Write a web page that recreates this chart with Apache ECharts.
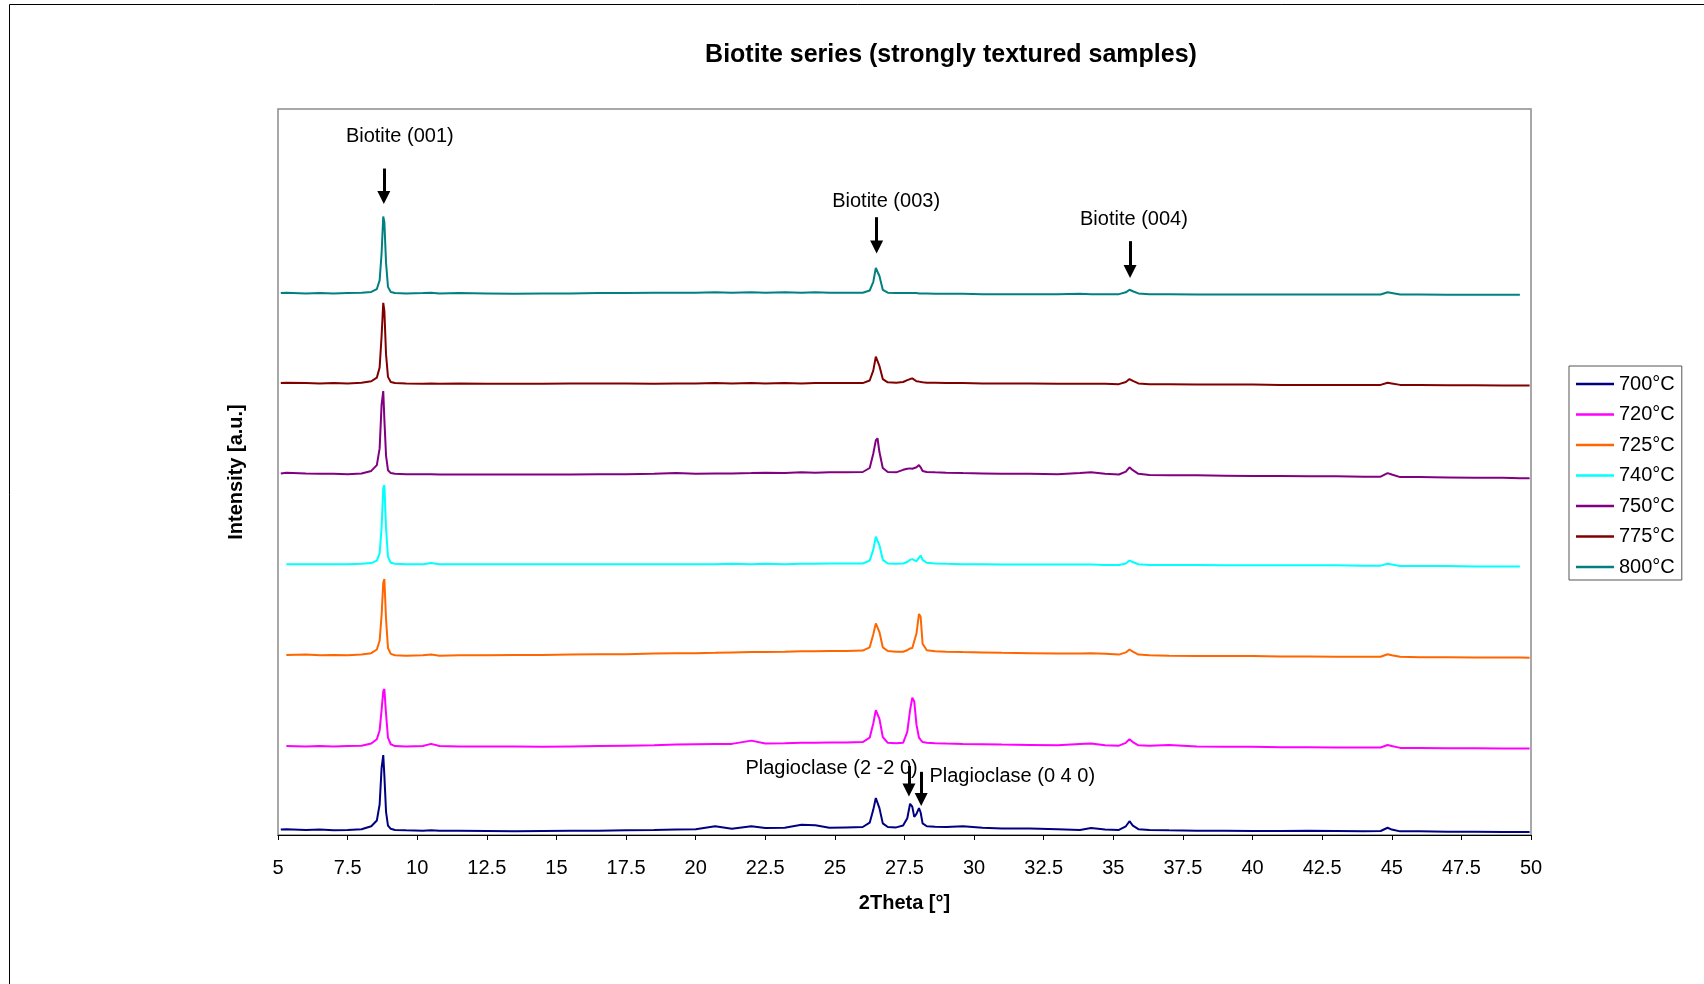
<!DOCTYPE html>
<html>
<head>
<meta charset="utf-8">
<script src="https://cdn.jsdelivr.net/npm/echarts@6/dist/echarts.min.js"></script>
<style>
html,body{margin:0;padding:0;background:#fff;}
#chart{width:1704px;height:984px;}
</style>
</head>
<body>
<div id="chart"></div>
<script>
// ---- Data ----
var seriesNames = ['700°C', '720°C', '725°C', '740°C', '750°C', '775°C', '800°C'];
var verticalOffsets = [0.7, 12.2, 24.75, 37.3, 49.75, 62.2, 74.6];
var xTicks = [5, 7.5, 10, 12.5, 15, 17.5, 20, 22.5, 25, 27.5, 30, 32.5, 35, 37.5, 40, 42.5, 45, 47.5, 50];

var twoTheta = [5.1, 5.3, 6.0, 6.5, 7.0, 7.5, 8.0, 8.35, 8.55, 8.65,
  8.72, 8.78, 8.82, 8.88, 8.95, 9.05, 9.2, 9.6, 10.2, 10.5,
  10.8, 11.5, 12.5, 13.5, 14.5, 15.5, 16.5, 17.5, 18.5, 19.3,
  20.0, 20.7, 21.3, 22.0, 22.5, 23.2, 23.8, 24.3, 24.8, 25.4,
  26.0, 26.25, 26.38, 26.47, 26.53, 26.6, 26.72, 26.9, 27.2, 27.45,
  27.6, 27.7, 27.78, 27.85, 27.93, 28.02, 28.08, 28.15, 28.3, 28.6,
  29.0, 29.6, 30.3, 31.0, 32.0, 33.0, 33.8, 34.2, 34.7, 35.2,
  35.45, 35.58, 35.7, 35.9, 36.3, 37.0, 38.0, 39.0, 40.0, 41.0,
  42.0, 43.0, 44.0, 44.6, 44.85, 45.0, 45.3, 46.0, 47.0, 48.0,
  49.0, 49.6, 49.95];

var int700 = [0.05, 0.1, 0.0, 0.05, -0.05, 0.0, 0.1, 0.5, 1.3, 3.5,
  8.5, 10.3, 7.5, 2.5, 0.6, 0.15, 0.0, -0.05, -0.1, -0.05,
  -0.1, -0.1, -0.15, -0.2, -0.15, -0.1, -0.1, -0.05, 0.0, 0.05,
  0.1, 0.5, 0.15, 0.5, 0.25, 0.3, 0.7, 0.65, 0.3, 0.35,
  0.4, 1.0, 2.8, 4.4, 4.6, 3.0, 0.9, 0.4, 0.35, 0.6,
  1.6, 3.6, 3.2, 1.8, 2.2, 3.0, 2.4, 0.9, 0.5, 0.45,
  0.4, 0.5, 0.3, 0.2, 0.2, 0.1, 0.0, 0.25, 0.05, 0.0,
  0.5, 1.2, 0.6, 0.1, 0.0, -0.05, -0.1, -0.1, -0.15, -0.15,
  -0.1, -0.15, -0.2, -0.15, 0.3, 0.05, -0.2, -0.2, -0.25, -0.25,
  -0.3, -0.3, -0.3];

var int720 = [null, 0.05, 0.0, 0.05, 0.0, 0.05, 0.1, 0.4, 1.0, 2.2,
  5.0, 7.6, 7.9, 4.5, 1.2, 0.3, 0.05, 0.0, 0.05, 0.35,
  0.05, 0.0, 0.0, 0.0, -0.05, 0.0, 0.05, 0.1, 0.15, 0.25,
  0.3, 0.35, 0.35, 0.8, 0.4, 0.45, 0.5, 0.5, 0.55, 0.55,
  0.6, 1.2, 3.2, 5.0, 5.2, 3.8, 1.3, 0.5, 0.45, 0.5,
  2.0, 5.0, 6.7, 6.2, 3.0, 1.2, 0.9, 0.6, 0.5, 0.45,
  0.4, 0.35, 0.3, 0.25, 0.2, 0.15, 0.35, 0.4, 0.15, 0.1,
  0.5, 1.0, 0.6, 0.15, 0.1, 0.2, 0.0, -0.05, -0.05, -0.1,
  -0.1, -0.15, -0.15, -0.15, 0.2, 0.05, -0.2, -0.2, -0.25, -0.25,
  -0.3, -0.3, -0.3];

var int725 = [null, 0.05, 0.1, 0.0, 0.05, 0.0, 0.1, 0.3, 0.8, 2.0,
  5.5, 10.0, 10.5, 5.0, 1.0, 0.2, 0.0, -0.05, 0.0, 0.1,
  -0.05, 0.0, 0.0, 0.05, 0.05, 0.1, 0.15, 0.15, 0.25, 0.3,
  0.3, 0.35, 0.4, 0.45, 0.45, 0.5, 0.55, 0.55, 0.6, 0.6,
  0.65, 1.1, 2.9, 4.4, 4.6, 3.2, 1.1, 0.6, 0.5, 0.5,
  0.7, 0.95, 1.0, 0.9, 3.0, 5.7, 5.3, 1.6, 0.7, 0.55,
  0.5, 0.45, 0.4, 0.35, 0.3, 0.25, 0.25, 0.3, 0.2, 0.1,
  0.4, 0.8, 0.5, 0.1, 0.0, -0.05, -0.1, -0.1, -0.1, -0.15,
  -0.15, -0.2, -0.2, -0.2, 0.15, 0.0, -0.2, -0.25, -0.25, -0.3,
  -0.3, -0.3, -0.35];

var int740 = [null, 0.0, 0.0, 0.0, 0.0, 0.0, 0.05, 0.15, 0.5, 1.5,
  5.0, 10.5, 10.9, 5.0, 1.0, 0.2, 0.05, 0.0, 0.0, 0.15,
  0.0, 0.0, 0.0, 0.0, 0.0, 0.0, 0.0, 0.0, 0.0, 0.0,
  0.0, 0.0, 0.05, 0.0, 0.05, 0.0, 0.05, 0.05, 0.1, 0.1,
  0.1, 0.5, 2.0, 3.8, 4.0, 2.6, 0.6, 0.1, 0.05, 0.1,
  0.3, 0.6, 0.7, 0.45, 0.4, 0.9, 1.2, 0.6, 0.2, 0.1,
  0.05, 0.0, 0.0, -0.05, -0.05, -0.05, -0.05, -0.05, -0.1, -0.1,
  0.1, 0.5, 0.3, 0.0, -0.1, -0.1, -0.1, -0.15, -0.15, -0.15,
  -0.15, -0.15, -0.2, -0.2, 0.05, -0.05, -0.25, -0.25, -0.25, -0.3,
  -0.3, -0.3, null];

var int750 = [0.05, 0.15, 0.05, 0.0, 0.0, -0.05, 0.05, 0.4, 1.2, 3.5,
  9.5, 11.4, 7.5, 2.5, 0.5, 0.1, 0.0, -0.05, -0.05, -0.05,
  -0.1, -0.1, -0.1, -0.1, -0.1, -0.1, -0.05, -0.05, 0.0, 0.1,
  0.0, 0.05, 0.05, 0.1, 0.15, 0.1, 0.2, 0.15, 0.2, 0.2,
  0.25, 0.8, 2.8, 4.6, 4.9, 3.0, 0.8, 0.25, 0.2, 0.55,
  0.7, 0.75, 0.7, 0.65, 0.9, 1.2, 0.9, 0.4, 0.25, 0.2,
  0.15, 0.1, 0.05, 0.0, 0.0, -0.05, 0.1, 0.2, 0.0, -0.1,
  0.3, 0.9, 0.5, 0.0, -0.15, -0.2, -0.2, -0.25, -0.3, -0.3,
  -0.35, -0.35, -0.4, -0.4, 0.1, -0.1, -0.45, -0.45, -0.5, -0.55,
  -0.55, -0.6, -0.6];

var int775 = [0.05, 0.1, 0.05, 0.0, 0.05, 0.0, 0.1, 0.3, 0.8, 2.2,
  6.5, 11.1, 10.0, 4.0, 0.9, 0.2, 0.05, 0.0, -0.05, 0.0,
  -0.05, 0.0, -0.05, -0.05, -0.05, 0.0, 0.0, 0.0, -0.05, 0.0,
  0.0, 0.05, 0.0, 0.05, 0.0, 0.05, 0.0, 0.05, 0.05, 0.05,
  0.05, 0.4, 1.8, 3.7, 3.9, 2.4, 0.6, 0.15, 0.1, 0.2,
  0.45, 0.6, 0.7, 0.45, 0.3, 0.25, 0.2, 0.15, 0.1, 0.1,
  0.05, 0.05, 0.0, 0.0, 0.0, -0.05, -0.05, -0.05, -0.05, -0.1,
  0.2, 0.6, 0.35, 0.0, -0.1, -0.1, -0.15, -0.15, -0.15, -0.2,
  -0.2, -0.2, -0.2, -0.2, 0.1, 0.0, -0.2, -0.2, -0.25, -0.25,
  -0.3, -0.3, -0.3];

var int800 = [0.05, 0.1, 0.0, 0.05, 0.0, 0.05, 0.1, 0.2, 0.6, 1.8,
  5.5, 10.6, 9.8, 4.2, 0.9, 0.2, 0.05, 0.0, 0.05, 0.1,
  0.0, 0.05, 0.0, -0.05, 0.0, 0.0, 0.05, 0.05, 0.1, 0.1,
  0.1, 0.15, 0.1, 0.15, 0.1, 0.15, 0.1, 0.15, 0.1, 0.1,
  0.1, 0.4, 1.6, 3.5, 3.7, 2.4, 0.5, 0.1, 0.05, 0.05,
  0.05, 0.05, 0.05, 0.0, 0.05, 0.0, 0.0, 0.0, 0.0, -0.05,
  -0.05, -0.05, -0.1, -0.1, -0.1, -0.1, -0.05, -0.1, -0.1, -0.1,
  0.15, 0.5, 0.3, 0.0, -0.1, -0.1, -0.15, -0.15, -0.15, -0.15,
  -0.15, -0.15, -0.15, -0.15, 0.15, 0.05, -0.15, -0.15, -0.2, -0.2,
  -0.2, -0.2, null];

var intensities = [int700, int720, int725, int740, int750, int775, int800];

// Annotations (data coordinates)
var annotationText = ['Biotite (001)', 'Biotite (003)', 'Biotite (004)', 'Plagioclase (2 -2 0)', 'Plagioclase (0 4 0)'];
var annotationX = [9.375, 26.84, 35.74, 24.88, 31.37];
var annotationY = [96.15, 87.3, 84.8, 9.2, 8.0];
var arrowX = [8.8, 26.5, 35.6, 27.66, 28.1];
var arrowTopY = [91.8, 85.1, 81.8, 9.5, 8.7];
var arrowHeadY = [87.8, 81.0, 77.6, 6.2, 4.9];

// ---- Styles ----
var colors = ['#000080', '#FF00FF', '#FF6600', '#00FFFF', '#800080', '#800000', '#008080'];
var FONT = '"Liberation Sans", Arial, Helvetica, sans-serif';

var series = seriesNames.map(function (name, s) {
  var vals = intensities[s];
  var data = [];
  for (var i = 0; i < twoTheta.length; i++) {
    if (vals[i] === null) continue;
    data.push([twoTheta[i], vals[i] + verticalOffsets[s]]);
  }
  return {
    name: name,
    type: 'line',
    data: data,
    showSymbol: false,
    symbol: 'none',
    lineStyle: { color: colors[s], width: 2 },
    itemStyle: { color: colors[s] },
    animation: false,
    silent: true,
    z: 2
  };
});

var arrowData = arrowX.map(function (x, i) {
  return [{ coord: [x, arrowTopY[i]] }, { coord: [x, arrowHeadY[i]] }];
});

series.push({
  name: 'annotations',
  type: 'scatter',
  symbolSize: 0,
  silent: true,
  animation: false,
  itemStyle: { opacity: 1, color: '#000' },
  data: annotationX.map(function (x, i) {
    return { name: annotationText[i], value: [x, annotationY[i]] };
  }),
  label: {
    show: true,
    position: 'inside',
    formatter: function (p) { return p.name; },
    color: '#000',
    opacity: 1,
    textBorderWidth: 0,
    fontFamily: FONT,
    fontSize: 20
  },
  markLine: {
    silent: true,
    animation: false,
    symbol: ['none', 'triangle'],
    symbolSize: [13, 13],
    label: { show: false },
    lineStyle: { color: '#000', width: 3, type: 'solid', opacity: 1 },
    itemStyle: { color: '#000' },
    emphasis: { disabled: true },
    data: arrowData
  },
  z: 5
});

var chart = echarts.init(document.getElementById('chart'), null, { renderer: 'canvas' });
chart.setOption({
  backgroundColor: '#ffffff',
  animation: false,
  title: {
    text: 'Biotite series (strongly textured samples)',
    left: 946,
    top: 38,
    textAlign: 'center',
    textStyle: { fontFamily: FONT, fontSize: 25, fontWeight: 'bold', color: '#000' }
  },
  graphic: [{
    type: 'rect',
    shape: { x: 9.5, y: 4.5, width: 1800, height: 1200 },
    style: { fill: 'none', stroke: '#000', lineWidth: 1 },
    silent: true,
    z: -10
  }],
  legend: {
    orient: 'vertical',
    left: 1569,
    top: 366,
    data: seriesNames,
    icon: 'rect',
    itemWidth: 38,
    itemHeight: 2.5,
    itemGap: 10.5,
    padding: [8, 7, 3, 7],
    borderColor: '#555',
    borderWidth: 1,
    backgroundColor: '#fff',
    selectedMode: false,
    textStyle: { fontFamily: FONT, fontSize: 20, color: '#000', lineHeight: 20 }
  },
  grid: {
    left: 278, right: 173, top: 109, bottom: 149,
    show: true,
    borderColor: '#8c8c8c',
    borderWidth: 1.5,
    backgroundColor: '#fff'
  },
  xAxis: {
    type: 'value',
    min: 5, max: 50, interval: 2.5,
    name: '2Theta [°]',
    nameLocation: 'middle',
    nameGap: 58,
    nameTextStyle: { fontFamily: FONT, fontSize: 20, fontWeight: 'bold', color: '#000' },
    axisLine: { show: true, lineStyle: { color: '#000', width: 1 } },
    axisTick: { show: true, inside: false, length: 5, lineStyle: { color: '#000' } },
    axisLabel: {
      margin: 23, fontFamily: FONT, fontSize: 20, color: '#000',
      formatter: function (v) { return xTicks.indexOf(v) >= 0 ? String(v) : ''; }
    },
    splitLine: { show: false }
  },
  yAxis: {
    type: 'value',
    min: 0, max: 100,
    name: 'Intensity [a.u.]',
    nameLocation: 'middle',
    nameRotate: 90,
    nameGap: 32,
    nameTextStyle: { fontFamily: FONT, fontSize: 20, fontWeight: 'bold', color: '#000' },
    axisLine: { show: false },
    axisTick: { show: false },
    axisLabel: { show: false },
    splitLine: { show: false }
  },
  series: series
});
</script>
</body>
</html>
